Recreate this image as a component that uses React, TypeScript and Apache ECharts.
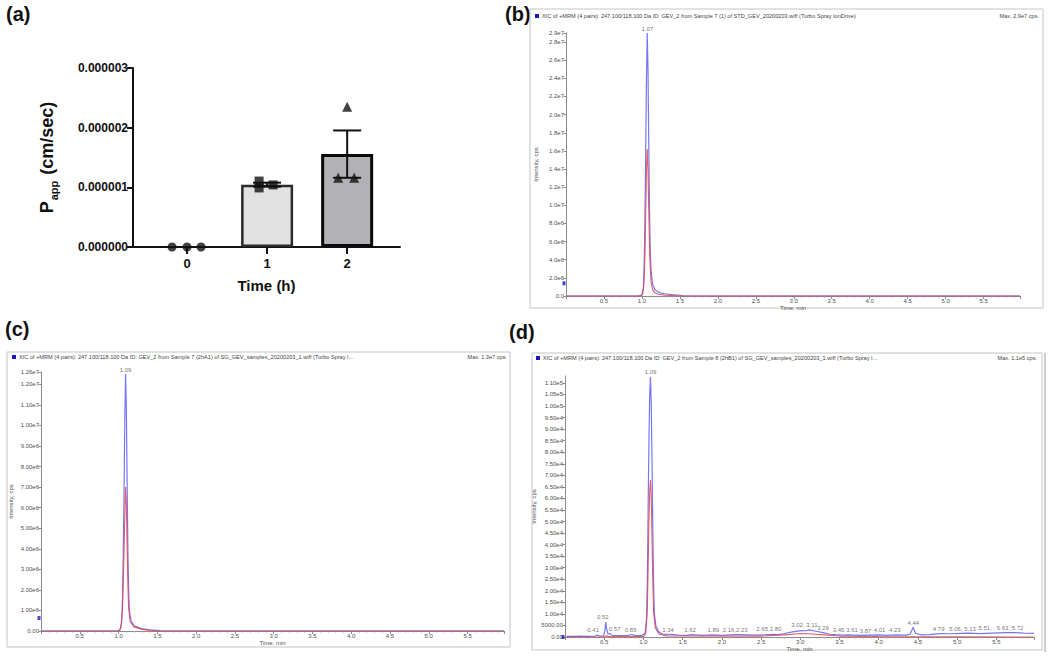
import React, { useEffect, useRef } from "react";
import * as echarts from "echarts";

// ---------------- Panel (a) data ----------------
const timeHours = [0, 1, 2];
const pappH0 = [0, 0, 0];
const pappH1 = [1.105e-6, 0.99e-6, 1.04e-6];
const pappH2 = [2.35e-6, 1.16e-6, 1.16e-6];
const yTicksA = [0, 1e-6, 2e-6, 3e-6];

// ---------------- Panel (b) data (time min, cps) ----------------
const bBlue = [
  [0, 0], [0.95, 0], [1.0, 0.1e6], [1.02, 1.0e6], [1.03, 3.5e6], [1.04, 8.5e6], [1.05, 16e6],
  [1.06, 24e6], [1.07, 29e6], [1.08, 25e6], [1.09, 17e6], [1.1, 9.5e6], [1.11, 5e6], [1.12, 2.8e6],
  [1.14, 1.3e6], [1.17, 0.7e6], [1.22, 0.4e6], [1.3, 0.25e6], [1.4, 0.15e6], [1.5, 0.08e6],
  [1.55, 0], [5.98, 0],
];
const bRed = [
  [0, 0], [0.98, 0], [1.01, 0.2e6], [1.02, 0.8e6], [1.03, 2e6], [1.04, 4.5e6], [1.05, 9e6],
  [1.06, 14e6], [1.07, 16.2e6], [1.08, 14e6], [1.09, 9.5e6], [1.1, 5.5e6], [1.11, 3e6], [1.12, 1.6e6],
  [1.14, 0.7e6], [1.17, 0.35e6], [1.22, 0.2e6], [1.3, 0.1e6], [1.45, 0.03e6], [1.5, 0], [5.98, 0],
];
const bPeakTimes = [1.07];
const bPeakHeights = [29e6];
const bPeakTexts = ["1.07"];
const bThreshold = 1.4e6;

// ---------------- Panel (c) data ----------------
const cBlue = [
  [0, 0], [0.98, 0], [1.02, 0.05e6], [1.04, 0.4e6], [1.05, 1.5e6], [1.06, 3.6e6], [1.07, 6.5e6],
  [1.08, 10e6], [1.09, 12.5e6], [1.1, 11e6], [1.11, 7.5e6], [1.12, 4e6], [1.13, 2e6], [1.14, 1.0e6],
  [1.16, 0.5e6], [1.2, 0.25e6], [1.3, 0.12e6], [1.4, 0.06e6], [1.5, 0.03e6], [1.55, 0], [5.97, 0],
];
const cRed = [
  [0, 0], [1.0, 0], [1.03, 0.15e6], [1.05, 1e6], [1.06, 2.2e6], [1.07, 3.8e6], [1.08, 5.6e6],
  [1.09, 7.0e6], [1.1, 6.2e6], [1.11, 4.2e6], [1.12, 2.3e6], [1.13, 1.1e6], [1.15, 0.45e6],
  [1.2, 0.2e6], [1.3, 0.08e6], [1.4, 0.03e6], [1.5, 0], [5.97, 0],
];
const cPeakTimes = [1.09];
const cPeakHeights = [12.5e6];
const cPeakTexts = ["1.09"];
const cThreshold = 0.63e6;

// ---------------- Panel (d) data ----------------
const dBlue = [
  [0.02, 300], [0.1, 250], [0.2, 350], [0.3, 300], [0.38, 400], [0.41, 900], [0.44, 400], [0.49, 500],
  [0.51, 3000], [0.52, 6500], [0.53, 3500], [0.55, 1200], [0.57, 1500], [0.6, 700], [0.7, 600],
  [0.8, 700], [0.85, 1100], [0.9, 600], [0.98, 700], [1.02, 1500], [1.04, 8000], [1.05, 25000],
  [1.06, 55000], [1.07, 85000], [1.08, 105000], [1.09, 112600], [1.1, 100000], [1.11, 75000],
  [1.12, 45000], [1.13, 22000], [1.14, 10000], [1.16, 4500], [1.2, 2000], [1.25, 1200], [1.34, 1100],
  [1.45, 800], [1.55, 700], [1.62, 1000], [1.75, 700], [1.89, 900], [2.0, 700], [2.16, 1000],
  [2.23, 1000], [2.4, 800], [2.55, 900], [2.65, 1100], [2.72, 1000], [2.8, 1500], [2.9, 2200],
  [3.02, 2800], [3.08, 2700], [3.11, 3100], [3.2, 2500], [3.29, 1900], [3.38, 1200], [3.45, 1000],
  [3.55, 800], [3.61, 900], [3.75, 700], [3.87, 800], [4.01, 900], [4.1, 700], [4.23, 900],
  [4.35, 800], [4.4, 1200], [4.44, 4200], [4.47, 1500], [4.55, 900], [4.65, 1000], [4.79, 1500],
  [4.9, 1400], [5.06, 1600], [5.13, 1700], [5.3, 1500], [5.51, 1800], [5.63, 1900], [5.72, 1900],
  [5.85, 1700], [5.98, 1600],
];
const dRed = [
  [0, 0], [0.5, 0], [0.52, 600], [0.55, 200], [1.0, 200], [1.03, 1500], [1.05, 12000], [1.06, 30000],
  [1.07, 50000], [1.08, 63000], [1.09, 68000], [1.1, 60000], [1.11, 42000], [1.12, 24000],
  [1.13, 11000], [1.15, 4000], [1.2, 1200], [1.3, 500], [2.5, 400], [2.8, 900], [3.0, 1500],
  [3.1, 1400], [3.3, 900], [3.5, 400], [4.0, 200], [5.0, 100], [5.98, 0],
];
const dPeakTimes = [1.09, 0.41, 0.52, 0.57, 0.85, 1.34, 1.62, 1.89, 2.195, 2.725, 3.065, 3.29, 3.45, 3.61, 3.87, 4.01, 4.23, 4.44, 4.79, 5.095, 5.51, 5.675];
const dPeakHeights = [112600, 900, 6500, 1500, 1100, 1100, 1000, 900, 1000, 1500, 3100, 1900, 1000, 900, 800, 900, 900, 4200, 1500, 1700, 1800, 1900];
const dPeakTexts = ["1.09", "0.41", "0.52", "0.57", "0.85", "1.34", "1.62", "1.89", "2.16,2.23", "2.65,2.80,", "3.02, 3.11", "3.29", "3.45", "3.61", "3.87", "4.01", "4.23", "4.44", "4.79", "5.06, 5.13", "5.51,", "5.63, 5.72"];
const dThreshold = 0;

const headerB = "XIC of +MRM (4 pairs): 247.100/118.100 Da ID: GEV_2 from Sample 7 (1) of STD_GEV_20200203.wiff (Turbo Spray IonDrive)";
const headerC = "XIC of +MRM (4 pairs): 247.100/118.100 Da ID: GEV_2 from Sample 7 (2hA1) of SG_GEV_samples_20200203_1.wiff (Turbo Spray I...";
const headerD = "XIC of +MRM (4 pairs): 247.100/118.100 Da ID: GEV_2 from Sample 8 (2hB1) of SG_GEV_samples_20200203_1.wiff (Turbo Spray I...";
const maxB = "Max. 2.9e7 cps.";
const maxC = "Max. 1.3e7 cps.";
const maxD = "Max. 1.1e5 cps.";

// ---------------- styles ----------------
const FONT = "Arial, 'Liberation Sans', Helvetica, sans-serif";
const jitter = [[-15, 0, 14], [-8, -8, 6], [0, -9, 7]];
// horizontal label nudges (px) for the crowded peak labels of panel (d)
const dLabelDx = [0, -4, -3, 5, -1, -2, -2, 0, -2, -9, -1, 0, 3, 4, -3, 0, -2, 0, -2, -2, -12, 0];
const BLUE = "#6868f4";
const RED = "#e5424a";
const GREY_TXT = "#505050";
const AXIS_GREY = "#8c8c8c";

const mean = (a) => a.reduce((s, v) => s + v, 0) / a.length;
const sem = (a) => {
  const m = mean(a);
  const v = a.reduce((s, x) => s + (x - m) * (x - m), 0) / (a.length - 1);
  return Math.sqrt(v / a.length);
};

function chromX(idx, max) {
  return {
    type: "value", gridIndex: idx, min: 0, max, interval: 0.5,
    axisLine: { show: true, onZero: false, lineStyle: { color: AXIS_GREY, width: 1 } },
    axisTick: { show: true, length: 3, lineStyle: { color: AXIS_GREY } },
    minorTick: { show: true, splitNumber: 5, length: 1.5, lineStyle: { color: "#a0a0a0" } },
    axisLabel: {
      fontSize: 6, color: GREY_TXT, fontFamily: FONT, margin: 2,
      showMinLabel: false, showMaxLabel: false, formatter: (v) => v.toFixed(1),
    },
    splitLine: { show: false },
    name: "Time, min", nameLocation: "middle", nameGap: 9,
    nameTextStyle: { fontSize: 6, color: GREY_TXT, fontFamily: FONT },
  };
}

function chromY(idx, max, interval, fmt, showMax) {
  return {
    type: "value", gridIndex: idx, min: 0, max, interval,
    axisLine: { show: true, onZero: false, lineStyle: { color: AXIS_GREY, width: 1 } },
    axisTick: { show: true, length: 2.5, lineStyle: { color: AXIS_GREY } },
    axisLabel: {
      fontSize: 6, color: GREY_TXT, fontFamily: FONT, margin: 2,
      showMaxLabel: showMax, formatter: fmt,
    },
    splitLine: { show: false },
    name: "Intensity, cps", nameLocation: "middle", nameGap: 27, nameRotate: 90,
    nameTextStyle: { fontSize: 6, color: GREY_TXT, fontFamily: FONT },
  };
}

function chromSeries(idx, blue, red, times, heights, texts, dx, threshold) {
  return [
    {
      type: "line", xAxisIndex: idx, yAxisIndex: idx, data: blue, showSymbol: false, symbol: "none",
      lineStyle: { color: BLUE, width: 1.2, opacity: 0.9 }, silent: true, z: 2,
    },
    {
      type: "line", xAxisIndex: idx, yAxisIndex: idx, data: red, showSymbol: false, symbol: "none",
      lineStyle: { color: RED, width: 1.1, opacity: 0.85 }, silent: true, z: 3,
    },
    {
      type: "scatter", xAxisIndex: idx, yAxisIndex: idx, symbolSize: 1, clip: false, silent: true,
      itemStyle: { color: "rgba(0,0,0,0)" }, z: 4,
      data: times.map((t, k) => ({
        value: [t, heights[k]], name: texts[k],
        label: { offset: [dx ? dx[k] : 0, 0] },
      })),
      label: {
        show: true, position: "top", distance: 1, formatter: (p) => p.name,
        fontSize: 6, color: GREY_TXT, fontFamily: FONT,
      },
    },
    {
      type: "scatter", xAxisIndex: idx, yAxisIndex: idx, symbol: "rect", symbolSize: [3, 4],
      symbolOffset: [-2, 0], clip: false, silent: true, itemStyle: { color: "#1616c8" },
      data: [[0, threshold]], z: 5,
    },
  ];
}

function box(x, y, w, h) {
  return {
    type: "rect", silent: true, shape: { x, y, width: w, height: h },
    style: { fill: "none", stroke: "#c4c4c4", lineWidth: 1 },
  };
}
function hdr(x, y, text, rightX, maxText) {
  return [
    { type: "rect", silent: true, shape: { x, y: y - 2, width: 4, height: 4 }, style: { fill: "#1414c8" } },
    { type: "text", silent: true, style: { text, x: x + 7, y, fontSize: 5.6, fontFamily: FONT, fill: "#444", align: "left", verticalAlign: "middle" } },
    { type: "text", silent: true, style: { text: maxText, x: rightX, y, fontSize: 5.6, fontFamily: FONT, fill: "#444", align: "right", verticalAlign: "middle" } },
  ];
}
function panelLabel(text, x, y) {
  return {
    type: "text", silent: true,
    style: { text, x, y, fontSize: 20, fontWeight: "bold", fontFamily: FONT, fill: "#111", align: "left", verticalAlign: "top" },
  };
}

function buildOption() {
  const groups = [pappH0, pappH1, pappH2];
  const barStyles = [
    {},
    { color: "#e2e2e2", borderColor: "#2a2a2a", borderWidth: 2.5 },
    { color: "#b2b2b6", borderColor: "#0a0a0a", borderWidth: 3 },
  ];
  const barData = timeHours
    .map((t, i) => ({ value: [t, mean(groups[i])], itemStyle: barStyles[i] }))
    .filter((d) => d.value[1] > 0);
  const errData = timeHours
    .map((t, i) => [t, mean(groups[i]), sem(groups[i])])
    .filter((d) => d[2] > 0);
  const symbols = ["circle", "rect", "triangle"];
  const symSizes = [9, 9, 10];
  const pointSeries = timeHours.map((t, i) => ({
    type: "scatter", xAxisIndex: 0, yAxisIndex: 0, symbol: symbols[i], symbolSize: symSizes[i],
    itemStyle: { color: "#111" }, clip: false, silent: true, z: 6,
    data: groups[i].map((v, k) => ({ value: [t, v], symbolOffset: [jitter[i][k], 0] })),
  }));

  const axA = { color: "#111", width: 2 };
  const boldA = { fontFamily: FONT, fontWeight: "bold", color: "#111" };

  return {
    animation: false,
    backgroundColor: "#ffffff",
    grid: [
      { left: 133, top: 68, width: 267, height: 179, outerBoundsMode: "none" },
      { left: 566, top: 33, width: 454, height: 263, outerBoundsMode: "none" },
      { left: 41, top: 372, width: 463, height: 259, outerBoundsMode: "none" },
      { left: 565, top: 376, width: 469, height: 261, outerBoundsMode: "none" },
    ],
    xAxis: [
      {
        type: "value", gridIndex: 0, min: -0.675, max: 2.66,
        axisLine: { show: true, onZero: false, lineStyle: axA },
        axisTick: { show: true, length: 7, lineStyle: axA, customValues: timeHours },
        axisLabel: { ...boldA, fontSize: 13, margin: 10, customValues: timeHours, formatter: (v) => String(v) },
        splitLine: { show: false },
        name: "Time (h)", nameLocation: "middle", nameGap: 31,
        nameTextStyle: { ...boldA, fontSize: 15 },
      },
      chromX(1, 5.98),
      chromX(2, 5.97),
      chromX(3, 5.98),
    ],
    yAxis: [
      {
        type: "value", gridIndex: 0, min: yTicksA[0], max: yTicksA[yTicksA.length - 1], interval: yTicksA[1] - yTicksA[0],
        axisLine: { show: true, onZero: false, lineStyle: axA },
        axisTick: { show: true, length: 6, lineStyle: axA },
        axisLabel: { ...boldA, fontSize: 12, margin: 5, formatter: (v) => v.toFixed(6) },
        splitLine: { show: false },
        name: "{p|P}{sub|app}{p| (cm/sec)}", nameLocation: "middle", nameGap: 74, nameRotate: 90,
        nameTextStyle: {
          ...boldA, fontSize: 17,
          rich: {
            p: { fontFamily: FONT, fontWeight: "bold", fontSize: 18, color: "#111", lineHeight: 24, verticalAlign: "middle" },
            sub: { fontFamily: FONT, fontWeight: "bold", fontSize: 11, color: "#111", lineHeight: 11, verticalAlign: "bottom", padding: [0, 1, 0, 1] },
          },
        },
      },
      chromY(1, 2.9e7, 2e6, (v) => (v === 0 ? "0.0" : v.toExponential(1).replace("e+", "e")), true),
      chromY(2, 1.26e7, 1e6, (v) => (v === 0 ? "0.00" : v.toExponential(2).replace("e+", "e")), true),
      chromY(3, 1.13e5, 5000, (v) => (v < 1e4 ? v.toFixed(2) : v.toExponential(2).replace("e+", "e")), false),
    ],
    series: [
      {
        type: "bar", xAxisIndex: 0, yAxisIndex: 0, barWidth: 52, data: barData, silent: true, z: 2,
      },
      {
        type: "custom", xAxisIndex: 0, yAxisIndex: 0, data: errData, silent: true, z: 4, clip: false,
        renderItem: (params, api) => {
          const x = api.value(0);
          const m = api.value(1);
          const s = api.value(2);
          const top = api.coord([x, m + s]);
          const bot = api.coord([x, m - s]);
          const hw = 14;
          const st = { stroke: "#111", lineWidth: 2 };
          return {
            type: "group",
            children: [
              { type: "line", shape: { x1: top[0], y1: top[1], x2: bot[0], y2: bot[1] }, style: st },
              { type: "line", shape: { x1: top[0] - hw, y1: top[1], x2: top[0] + hw, y2: top[1] }, style: st },
              { type: "line", shape: { x1: bot[0] - hw, y1: bot[1], x2: bot[0] + hw, y2: bot[1] }, style: st },
            ],
          };
        },
      },
      ...pointSeries,
      ...chromSeries(1, bBlue, bRed, bPeakTimes, bPeakHeights, bPeakTexts, null, bThreshold),
      ...chromSeries(2, cBlue, cRed, cPeakTimes, cPeakHeights, cPeakTexts, null, cThreshold),
      ...chromSeries(3, dBlue, dRed, dPeakTimes, dPeakHeights, dPeakTexts, dLabelDx, dThreshold),
    ],
    graphic: [
      panelLabel("(a)", 6, 4),
      panelLabel("(b)", 505, 4),
      panelLabel("(c)", 5, 319),
      panelLabel("(d)", 509, 322),
      box(530, 9, 513, 299),
      box(7, 352, 503, 295),
      box(532, 353, 510, 297),
      { type: "line", silent: true, shape: { x1: 1045, y1: 353, x2: 1045, y2: 652 }, style: { stroke: "#9a9a9a", lineWidth: 1 } },
      ...hdr(535, 16, headerB, 1039, maxB),
      ...hdr(12, 357, headerC, 507, maxC),
      ...hdr(536, 358, headerD, 1037, maxD),
    ],
  };
}

export default function App() {
  const ref = useRef(null);
  useEffect(() => {
    const chart = echarts.init(ref.current, null, { renderer: "svg" });
    chart.setOption(buildOption());
    return () => chart.dispose();
  }, []);
  return (
    <div
      ref={ref}
      style={{ position: "absolute", left: 0, top: 0, width: 1050, height: 660, background: "#fff" }}
    />
  );
}
